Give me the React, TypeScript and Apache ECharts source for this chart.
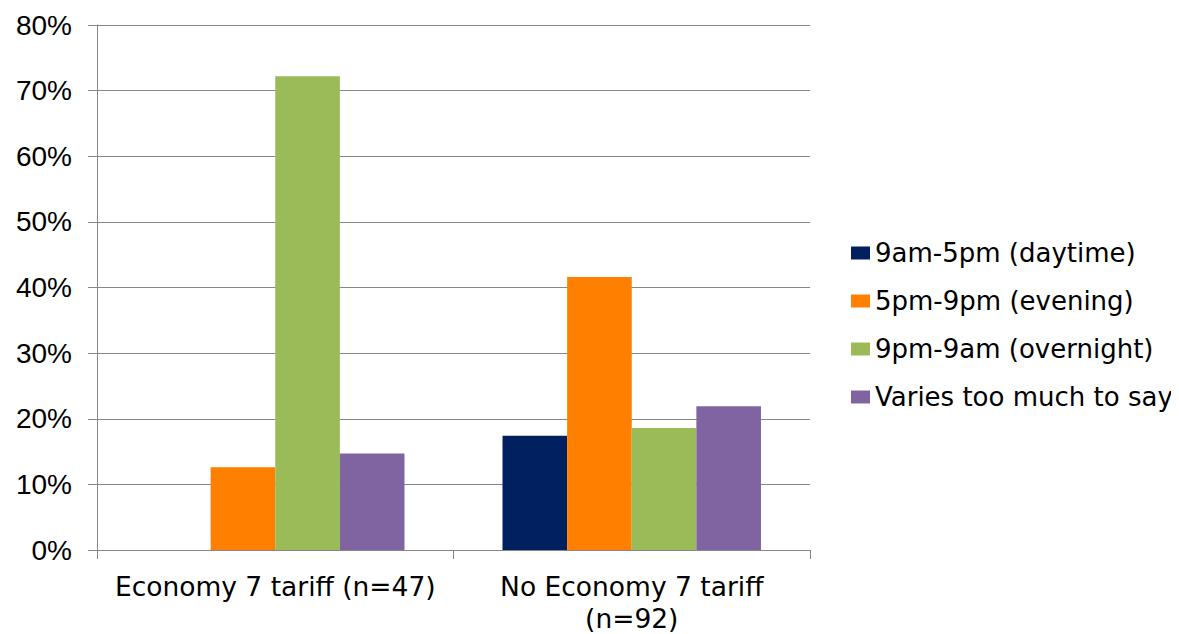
import React, { useEffect, useRef } from "react";
import * as echarts from "echarts";

const categories = ["Economy 7 tariff (n=47)", "No Economy 7 tariff\n(n=92)"];
const seriesNames = [
  "9am-5pm (daytime)",
  "5pm-9pm (evening)",
  "9pm-9am (overnight)",
  "Varies too much to say",
];
const daytime = [0, 17.4];
const evening = [12.6, 41.6];
const overnight = [72.2, 18.6];
const varies = [14.7, 21.9];
const colors = ["#002060", "#FF8000", "#9BBB59", "#8064A2"];
const yTicks = [0, 10, 20, 30, 40, 50, 60, 70, 80];

export default function App() {
  const ref = useRef<HTMLDivElement>(null);
  useEffect(() => {
    if (!ref.current) return;
    const chart = echarts.init(ref.current, undefined, { renderer: "svg" });
    const values = [daytime, evening, overnight, varies];
    const axisColor = "#868686";
    chart.setOption({
      animation: false,
      backgroundColor: "#ffffff",
      grid: { left: 97, right: 369, top: 25, bottom: 80, containLabel: false },
      legend: {
        orient: "vertical",
        left: 851,
        top: 238,
        padding: 0,
        itemWidth: 19,
        itemHeight: 13,
        itemGap: 18,
        icon: "rect",
        data: seriesNames,
        textStyle: {
          fontFamily: "DejaVu Sans",
          fontSize: 26,
          color: "#000000",
          lineHeight: 30,
        },
      },
      xAxis: {
        type: "category",
        data: categories,
        axisLine: { show: true, lineStyle: { color: axisColor, width: 1 } },
        axisTick: { show: true, length: 9, alignWithLabel: false, lineStyle: { color: axisColor } },
        axisLabel: {
          fontFamily: "DejaVu Sans",
          fontSize: 26.5,
          color: "#000000",
          lineHeight: 32,
          margin: 20,
          interval: 0,
        },
      },
      yAxis: {
        type: "value",
        min: 0,
        max: 80,
        interval: 10,
        axisLine: { show: true, lineStyle: { color: axisColor, width: 1 } },
        axisTick: { show: true, length: 9, lineStyle: { color: axisColor } },
        splitLine: { show: true, lineStyle: { color: axisColor, width: 1 } },
        axisLabel: {
          fontFamily: "Liberation Sans",
          fontSize: 28,
          color: "#000000",
          margin: 25,
          formatter: (v: number) => (yTicks.includes(v) ? v + "%" : ""),
        },
      },
      series: seriesNames.map((name, i) => ({
        name,
        type: "bar",
        data: values[i],
        barGap: "0%",
        barCategoryGap: "27.5%",
        itemStyle: { color: colors[i] },
      })),
    });
    return () => chart.dispose();
  }, []);
  return <div ref={ref} style={{ width: 1179, height: 634, marginLeft: -8, marginTop: -8 }} />;
}
